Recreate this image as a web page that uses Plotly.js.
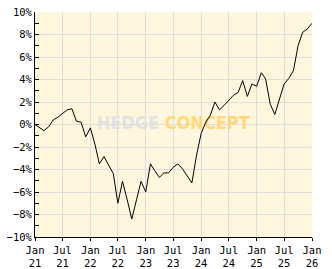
<!DOCTYPE html>
<html>
<head>
<meta charset="utf-8">
<script src="https://cdn.plot.ly/plotly-3.0.1.min.js"></script>
<style>
html,body{margin:0;padding:0;background:#ffffff;}
#chart{width:332px;height:269px;}
</style>
</head>
<body>
<div id="chart"></div>
<script>
// Monthly performance (%) from Jan 2021 to Jan 2026
const startYear = 2021;
const perfValues = [
  0.0, -0.3, -0.55, -0.2, 0.4, 0.65, 1.0, 1.3, 1.4, 0.3, 0.2, -1.1,
  -0.3, -1.8, -3.5, -2.85, -3.6, -4.35, -7.0, -5.05, -6.7, -8.4, -6.7, -5.05,
  -6.0, -3.5, -4.1, -4.7, -4.3, -4.3, -3.8, -3.5, -3.95, -4.6, -5.2, -2.8,
  -0.8, 0.2, 0.8, 2.0, 1.3, 1.7, 2.1, 2.6, 2.85, 3.9, 2.5, 3.6,
  3.4, 4.6, 4.05, 1.8, 0.9, 2.2, 3.6, 4.1, 4.8, 7.0, 8.2, 8.5,
  9.0
];
const tickDates = ['2021-01-01','2021-07-01','2022-01-01','2022-07-01','2023-01-01','2023-07-01',
  '2024-01-01','2024-07-01','2025-01-01','2025-07-01','2026-01-01'];
const tickLabels = ['Jan<br>21','Jul<br>21','Jan<br>22','Jul<br>22','Jan<br>23','Jul<br>23',
  'Jan<br>24','Jul<br>24','Jan<br>25','Jul<br>25','Jan<br>26'];
const watermarkText = '<b><span style="color:#e2e2e2">HEDGE</span> <span style="color:#ffd77c">CONCEPT</span></b>';

const dates = perfValues.map((v, i) => {
  const y = startYear + Math.floor(i / 12);
  const m = (i % 12) + 1;
  return y + '-' + String(m).padStart(2, '0') + '-01';
});

const tickFont = {family: 'DejaVu Sans Mono, monospace', size: 10.5, color: '#000000'};

const traces = [
  {
    x: ['2023-07-01'], y: [0],
    mode: 'text', text: [watermarkText], textposition: 'middle center',
    textfont: {family: 'DejaVu Sans Condensed, DejaVu Sans, sans-serif', size: 18},
    hoverinfo: 'skip', showlegend: false
  },
  {
    x: dates, y: perfValues,
    mode: 'lines', line: {color: '#000000', width: 1},
    hoverinfo: 'skip', showlegend: false
  }
];

const layout = {
  width: 332, height: 269,
  margin: {l: 35, r: 20, t: 12, b: 32, pad: 0},
  paper_bgcolor: '#ffffff',
  plot_bgcolor: '#fff7dd',
  showlegend: false,
  xaxis: {
    type: 'date',
    range: ['2021-01-01', '2026-01-01'],
    tickmode: 'array', tickvals: tickDates, ticktext: tickLabels,
    showgrid: true, gridcolor: '#dcdcdc', gridwidth: 1,
    showline: true, linecolor: '#000000', linewidth: 1,
    ticks: 'outside', ticklen: 3, tickcolor: '#000000',
    tickfont: tickFont, zeroline: false, fixedrange: true
  },
  yaxis: {
    range: [-10, 10],
    dtick: 2, tick0: 0, ticksuffix: '%',
    showgrid: true, gridcolor: '#dcdcdc', gridwidth: 1,
    showline: true, linecolor: '#000000', linewidth: 1,
    ticks: 'inside', ticklen: 4, tickcolor: '#000000',
    minor: {dtick: 1, ticks: 'inside', ticklen: 4, tickcolor: '#000000', showgrid: false},
    tickfont: tickFont, zeroline: false, fixedrange: true
  }
};

Plotly.newPlot('chart', traces, layout, {staticPlot: true, displayModeBar: false});
</script>
</body>
</html>
